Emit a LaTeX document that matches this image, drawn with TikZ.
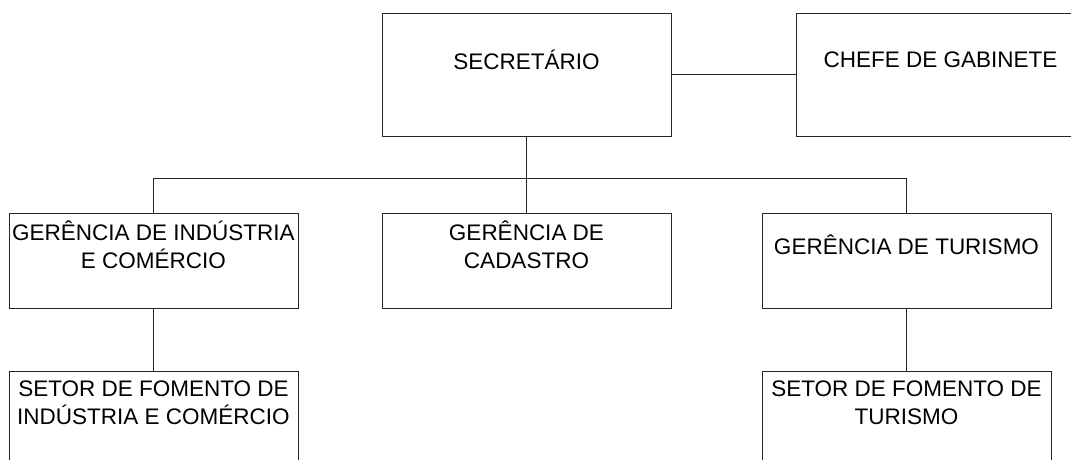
\documentclass[tikz,border=0pt]{standalone}
\usepackage{fontspec}
\setmainfont{Liberation Sans}
\usetikzlibrary{positioning}

\begin{document}
\begin{tikzpicture}[x=1pt,y=-1pt,line width=1pt,
        orgbox/.style={draw=black!85, minimum width=289pt, minimum height=95pt},
        topbox/.style={orgbox, minimum height=123pt},
        boxtext/.style={anchor=center, yshift=-32pt, align=center, text=black,
            font=\fontsize{22.5}{28}\selectfont},
        toptext/.style={boxtext, yshift=-15pt},
        link/.style={draw=black!85}]
            \useasboundingbox (0,0) rectangle (1071,459);

            \node[topbox, label={[toptext]north:SECRETÁRIO}] (sec) at (526.5,74.5) {};
            \node[topbox, label={[toptext]north:CHEFE DE GABINETE}] (chefe) [right=124pt of sec] {};
            \node[orgbox, label={[boxtext]north:GERÊNCIA DE\\CADASTRO}] (gcad) [below=76pt of sec] {};
            \node[orgbox, label={[boxtext]north:GERÊNCIA DE INDÚSTRIA\\E COMÉRCIO}] (gind) [left=83pt of gcad] {};
            \node[orgbox, label={[boxtext]north:GERÊNCIA DE TURISMO}] (gtur) [right=90pt of gcad] {};
            \node[orgbox, label={[boxtext]north:SETOR DE FOMENTO DE\\INDÚSTRIA E COMÉRCIO}] (sind) [below=62pt of gind] {};
            \node[orgbox, label={[boxtext]north:SETOR DE FOMENTO DE\\TURISMO}] (stur) [below=62pt of gtur] {};
            \coordinate[below=42pt of sec] (bar);

            \path[link] (sec) -- (chefe);
            \path[link] (sec) -- (gcad);
            \path[link] (gind.north) |- (bar) -| (gtur.north);
            \path[link] (gind) -- (sind);
            \path[link] (gtur) -- (stur);
        \end{tikzpicture}
\end{document}
